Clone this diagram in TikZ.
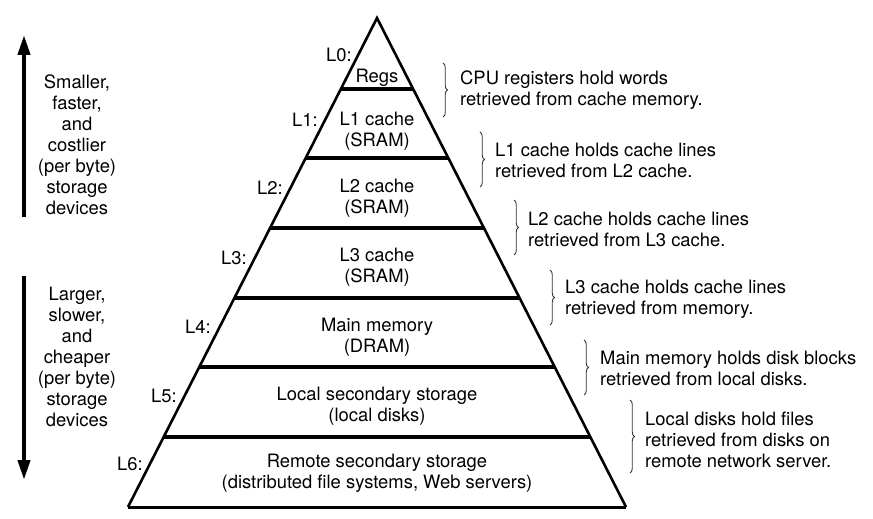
\documentclass[tikz,border=0pt]{standalone}
\usepackage{fontspec}
\setmainfont{TeX Gyre Heros}
\usetikzlibrary{arrows.meta,decorations.pathreplacing}
\begin{document}
\begin{tikzpicture}[x=1bp,y=-1bp,
  txt/.style={inner sep=0pt,align=center,font=\fontsize{18.4bp}{21bp}\selectfont},
  desc/.style={inner sep=0pt,align=left,anchor=west,font=\fontsize{18.4bp}{21bp}\selectfont},
  lvl/.style={inner sep=0pt,anchor=east,font=\fontsize{18.4bp}{21bp}\selectfont},
  edge/.style={line width=2.6bp,line join=miter},
  sep/.style={line width=4bp},
  brc/.style={line width=0.9bp,black!80,decorate,decoration={brace,amplitude=4.5bp}},
  bigarrow/.style={line width=4bp,-{Triangle[length=20bp,width=12bp]}}]
\useasboundingbox (0,0) rectangle (873,519);
% pyramid
\coordinate (apex) at (377,18);
\coordinate (bl) at (128,507);
\coordinate (br) at (626,507);
\draw[edge] (bl) -- (apex) -- (br);
\draw[line width=3bp] (bl) -- (br);
\coordinate (a1) at (340.8,89);  \coordinate (b1) at (413.2,89);
\coordinate (a2) at (305.7,158); \coordinate (b2) at (448.3,158);
\coordinate (a3) at (270.1,228); \coordinate (b3) at (483.9,228);
\coordinate (a4) at (234.4,298); \coordinate (b4) at (519.6,298);
\coordinate (a5) at (199.3,367); \coordinate (b5) at (554.7,367);
\coordinate (a6) at (163.6,437); \coordinate (b6) at (590.4,437);
\foreach \i in {1,...,6} \draw[sep] (a\i) -- (b\i);
% level texts
\node[txt] (t0) at (377,77.5) {Regs};
\node[txt] (t1) at (377,131) {L1 cache\\(SRAM)};
\node[txt] (t2) at (377,198) {L2 cache\\(SRAM)};
\node[txt] (t3) at (377,267) {L3 cache\\(SRAM)};
\node[txt] (t4) at (377,337) {Main memory\\(DRAM)};
\node[txt] (t5) at (377,406) {Local secondary storage\\(local disks)};
\node[txt] (t6) at (377,473.5) {Remote secondary storage\\(distributed file systems, Web servers)};
% level labels
\node[lvl] (n0) at (352,55) {L0:};
\node[lvl] (n1) at (318,120) {L1:};
\node[lvl] (n2) at (283,188) {L2:};
\node[lvl] (n3) at (247,258) {L3:};
\node[lvl] (n4) at (211,327) {L4:};
\node[lvl] (n5) at (177,396) {L5:};
\node[lvl] (n6) at (143,464) {L6:};
% braces
\coordinate (u1) at (443,63);  \coordinate (v1) at (443,117);
\coordinate (u2) at (480,132); \coordinate (v2) at (480,187);
\coordinate (u3) at (514,200); \coordinate (v3) at (514,255);
\coordinate (u4) at (550,270); \coordinate (v4) at (550,325);
\coordinate (u5) at (584,340); \coordinate (v5) at (584,395);
\coordinate (u6) at (630,400); \coordinate (v6) at (630,473);
\foreach \i in {1,...,6} \draw[brc] (u\i) -- (v\i);
% descriptions
\node[desc] (d1) at (460,90) {CPU registers hold words\\retrieved from cache memory.};
\node[desc] (d2) at (495,160) {L1 cache holds cache lines\\retrieved from L2 cache.};
\node[desc] (d3) at (528,229.5) {L2 cache holds cache lines\\retrieved from L3 cache.};
\node[desc] (d4) at (565,299) {L3 cache holds cache lines\\retrieved from memory.};
\node[desc] (d5) at (600,368.5) {Main memory holds disk blocks\\retrieved from local disks.};
\node[desc] (d6) at (645,439.5) {Local disks hold files\\retrieved from disks on\\remote network server.};
% left arrows
\coordinate (up0) at (24,217); \coordinate (up1) at (24,35);
\coordinate (dn0) at (24,276); \coordinate (dn1) at (24,480);
\draw[bigarrow] (up0) -- (up1);
\draw[bigarrow] (dn0) -- (dn1);
\node[txt] (s1) at (77,145) {Smaller,\\faster,\\and\\costlier\\(per byte)\\storage\\devices};
\node[txt] (s2) at (77,356.5) {Larger,\\slower,\\and\\cheaper\\(per byte)\\storage\\devices};
\end{tikzpicture}
\end{document}
